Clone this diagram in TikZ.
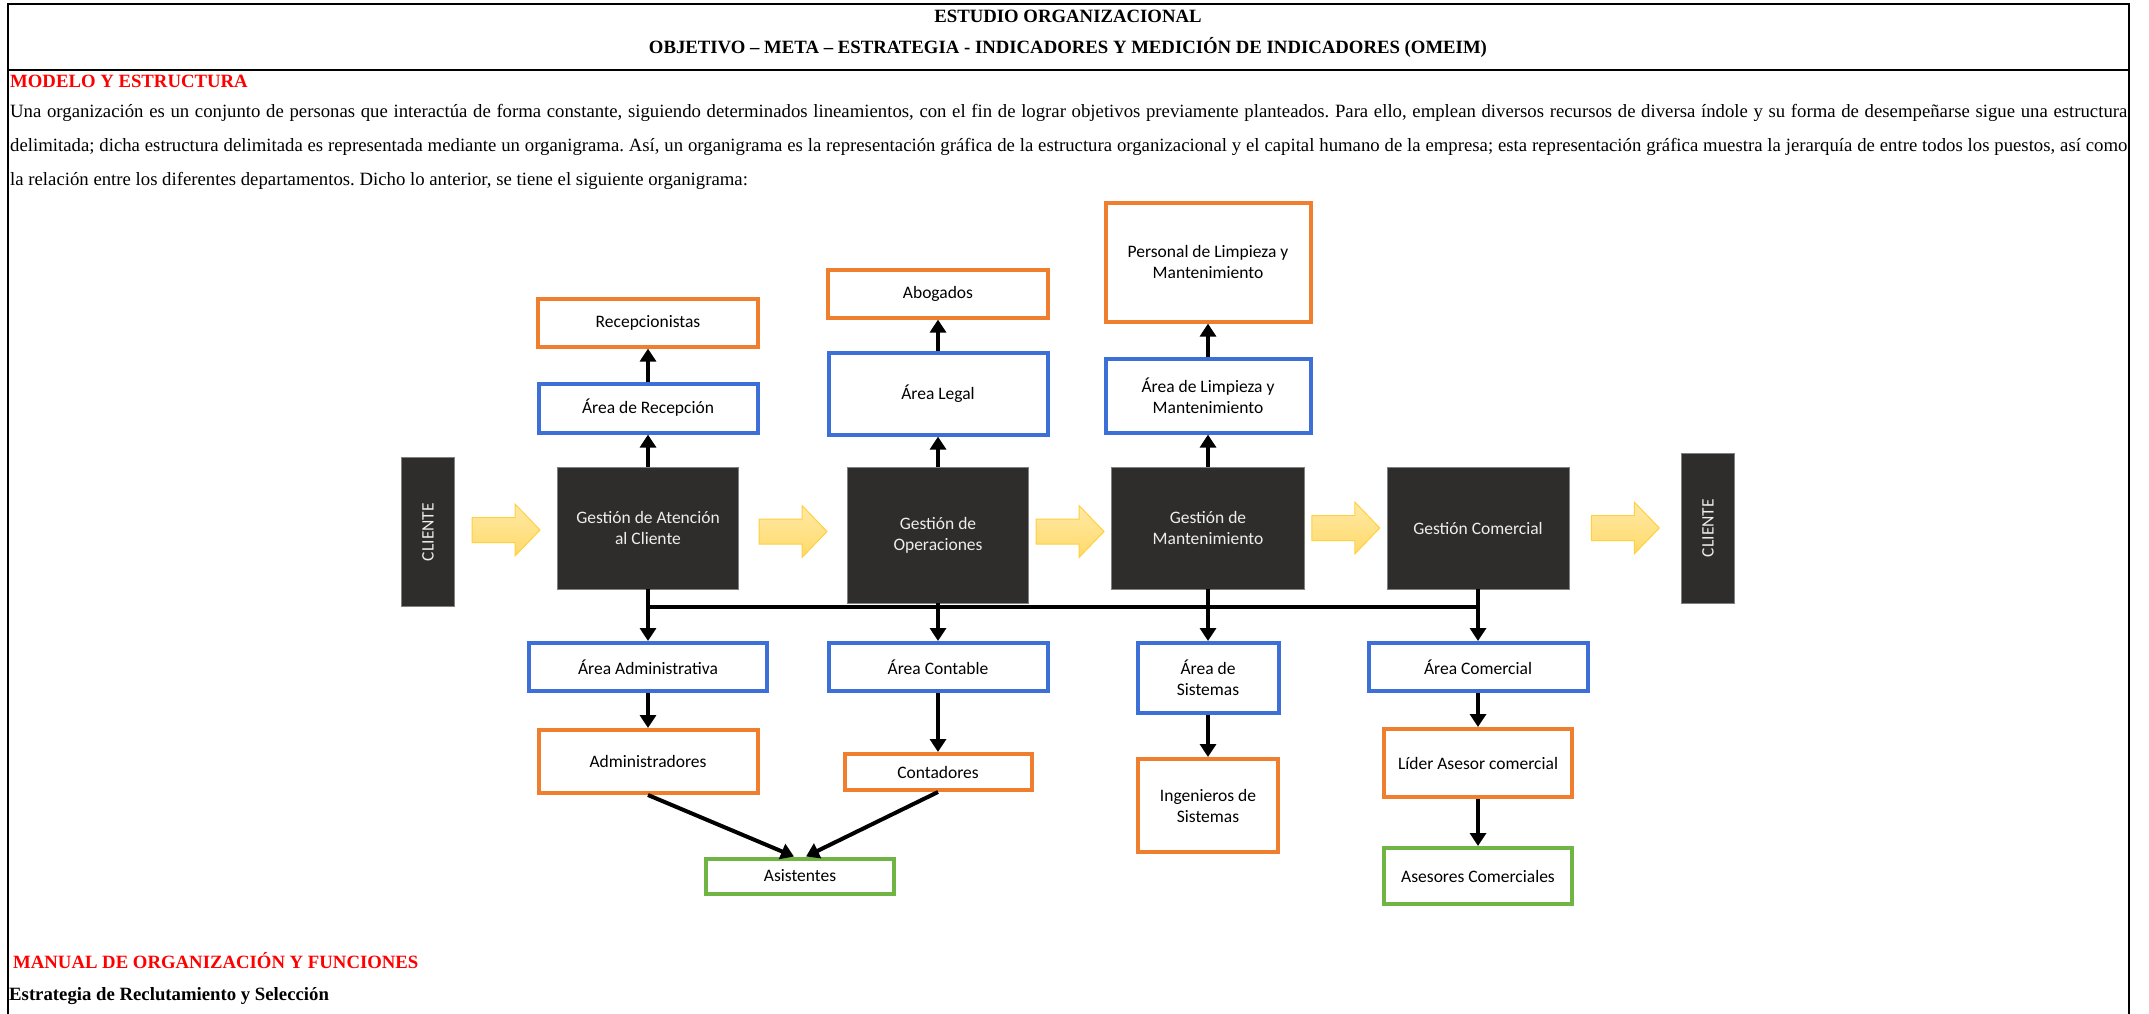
\documentclass[tikz,border=0pt]{standalone}
\usepackage{fontspec}
\setmainfont{Liberation Serif}
\newfontfamily\calibri{Carlito}
\usepackage{graphicx}
\usepackage{tikz}
\usetikzlibrary{calc,positioning,arrows.meta}
\frenchspacing

\definecolor{boxblue}{HTML}{3C70D6}
\definecolor{boxorange}{HTML}{EF7F2F}
\definecolor{boxgreen}{HTML}{70B443}
\definecolor{darkbox}{HTML}{2E2D2B}
\definecolor{arrowfill}{HTML}{FFDA6A}
\definecolor{arrowedge}{HTML}{FFD040}

\tikzset{
	box/.style={draw,line width=4pt,fill=white,align=center,inner sep=2pt,
		font=\calibri\fontsize{17.5}{21}\selectfont},
	areabox/.style={box,draw=boxblue},
	staffbox/.style={box,draw=boxorange},
	helpbox/.style={box,draw=boxgreen},
	mgmtbox/.style={draw=black!50,line width=0.8pt,fill=darkbox,text=white!93!black,
		align=center,font=\calibri\fontsize{17.5}{21}\selectfont},
	link/.style={line width=4pt,-{Triangle[length=13pt,width=16pt]}},
	busline/.style={line width=4pt},
	flowarrow/.style={draw=arrowedge,line width=1pt,top color=arrowfill!60!white,bottom color=arrowfill},
	frame/.style={line width=2.2pt},
	txt/.style={font=\fontsize{18.75}{33.5}\selectfont,inner sep=0pt}
}

\begin{document}
	\begin{tikzpicture}[x=1pt,y=-1pt]
		\useasboundingbox (0,0) rectangle (2149,1014);
		% marco y encabezado
		\draw[frame] (8,1014) -- (8,4) -- (2129,4) -- (2129,1014);
		\draw[frame] (8,70) -- (2129,70);
		\node(tit1) [txt,anchor=base] at (1068,23) {\bfseries ESTUDIO ORGANIZACIONAL};
		\node(tit2) [txt,anchor=base] at (1068,54) {\bfseries OBJETIVO – META – ESTRATEGIA - INDICADORES Y MEDICIÓN DE INDICADORES (OMEIM)};
		\node(sec1) [txt,anchor=base west,text=red] at (10,88) {\bfseries MODELO Y ESTRUCTURA};
		\node(par) [txt,anchor=base west,text width=2117pt,align=justify] at (10,118)
			{Una organización es un conjunto de personas que interactúa de forma constante, siguiendo determinados lineamientos, con el fin de lograr objetivos previamente planteados. Para ello, emplean diversos recursos de diversa índole y su forma de desempeñarse sigue una estructura\linebreak
			delimitada; dicha estructura delimitada es representada mediante un organigrama. Así, un organigrama es la representación gráfica de la estructura organizacional y el capital humano de la empresa; esta representación gráfica muestra la jerarquía de entre todos los puestos, así como\linebreak
			la relación entre los diferentes departamentos. Dicho lo anterior, se tiene el siguiente organigrama:};

		% fila de gestiones
		\node(cl1)  [mgmtbox,minimum width=53pt,minimum height=149pt] at (428,532) {\rotatebox{90}{CLIENTE}};
		\node(gac)  [mgmtbox,minimum width=181pt,minimum height=122pt] at (648,528) {Gestión de Atención\\al Cliente};
		\node(gop)  [mgmtbox,minimum width=181pt,minimum height=136pt] at (938,535) {Gestión de\\Operaciones};
		\node(gman) [mgmtbox,minimum width=193pt,minimum height=122pt] at (1208,528) {Gestión de\\Mantenimiento};
		\node(gcom) [mgmtbox,minimum width=182pt,minimum height=122pt] at (1478,528) {Gestión Comercial};
		\node(cl2)  [mgmtbox,minimum width=53pt,minimum height=150pt] at (1708,528) {\rotatebox{90}{CLIENTE}};
		\foreach \a/\b in {cl1/gac,gac/gop,gop/gman,gman/gcom,gcom/cl2} {
			\coordinate (m) at ($(\a.east)!0.5!(\b.west)$);
			\draw[flowarrow] ($(m)+(-34,-12.5)$) -- ($(m)+(9,-12.5)$) -- ($(m)+(9,-26)$) -- ($(m)+(34,0)$)
				-- ($(m)+(9,26)$) -- ($(m)+(9,12.5)$) -- ($(m)+(-34,12.5)$) -- cycle;
		}

		% areas superiores
		\node(arec)   [areabox,above=32pt of gac,minimum width=219pt,minimum height=49pt] {Área de Recepción};
		\node(recep)  [staffbox,above=33pt of arec,minimum width=220pt,minimum height=48pt] {Recepcionistas};
		\node(alegal) [areabox,above=30pt of gop,minimum width=219pt,minimum height=82pt] {Área Legal};
		\node(abog)   [staffbox,above=31pt of alegal,minimum width=220pt,minimum height=48pt] {Abogados};
		\node(alim)   [areabox,above=32pt of gman,minimum width=205pt,minimum height=74pt] {Área de Limpieza y\\Mantenimiento};
		\node(plim)   [staffbox,above=33pt of alim,minimum width=205pt,minimum height=119pt] {Personal de Limpieza y\\Mantenimiento};
		\foreach \a/\b in {gac/arec,arec/recep,gop/alegal,alegal/abog,gman/alim,alim/plim}
			\draw[link] (\a) -- (\b);

		% areas inferiores
		\node(aadm)  [areabox,minimum width=238pt,minimum height=48pt] at (648,667) {Área Administrativa};
		\node(acont) [areabox,minimum width=219pt,minimum height=48pt] at (938,667) {Área Contable};
		\node(asys)  [areabox,minimum width=141pt,minimum height=70pt] at (1208,678) {Área de\\Sistemas};
		\node(acom)  [areabox,minimum width=219pt,minimum height=48pt] at (1478,667) {Área Comercial};
		\node(admin) [staffbox,below=35pt of aadm,minimum width=219pt,minimum height=63pt] {Administradores};
		\node(conta) [staffbox,below=59pt of acont,minimum width=187pt,minimum height=36pt] {Contadores};
		\node(ing)   [staffbox,below=42pt of asys,minimum width=140pt,minimum height=93pt] {Ingenieros de\\Sistemas};
		\node(lider) [staffbox,below=34pt of acom,minimum width=188pt,minimum height=68pt] {Líder Asesor comercial};
		\node(aseso) [helpbox,below=47pt of lider,minimum width=188pt,minimum height=56pt] {Asesores Comerciales};
		\node(asist) [helpbox,minimum width=188pt,minimum height=35pt] at (800,876) {Asistentes};

		\coordinate (bus) at (648,607);
		\draw[busline] (gac.south |- bus) -- (gcom.south |- bus);
		\foreach \a/\b in {gac/aadm,gop/acont,gman/asys,gcom/acom,aadm/admin,acont/conta,asys/ing,acom/lider,lider/aseso}
			\draw[link] (\a) -- (\b);
		\draw[link] (admin.south) -- ([xshift=-6pt]asist.north);
		\draw[link] (conta.south) -- ([xshift=6pt]asist.north);

		% pie
		\node(sec2) [txt,anchor=base west,text=red] at (13,968) {\bfseries MANUAL DE ORGANIZACIÓN Y FUNCIONES};
		\node(sub2) [txt,anchor=base west] at (9,1000) {\bfseries Estrategia de Reclutamiento y Selección};
	\end{tikzpicture}
\end{document}
